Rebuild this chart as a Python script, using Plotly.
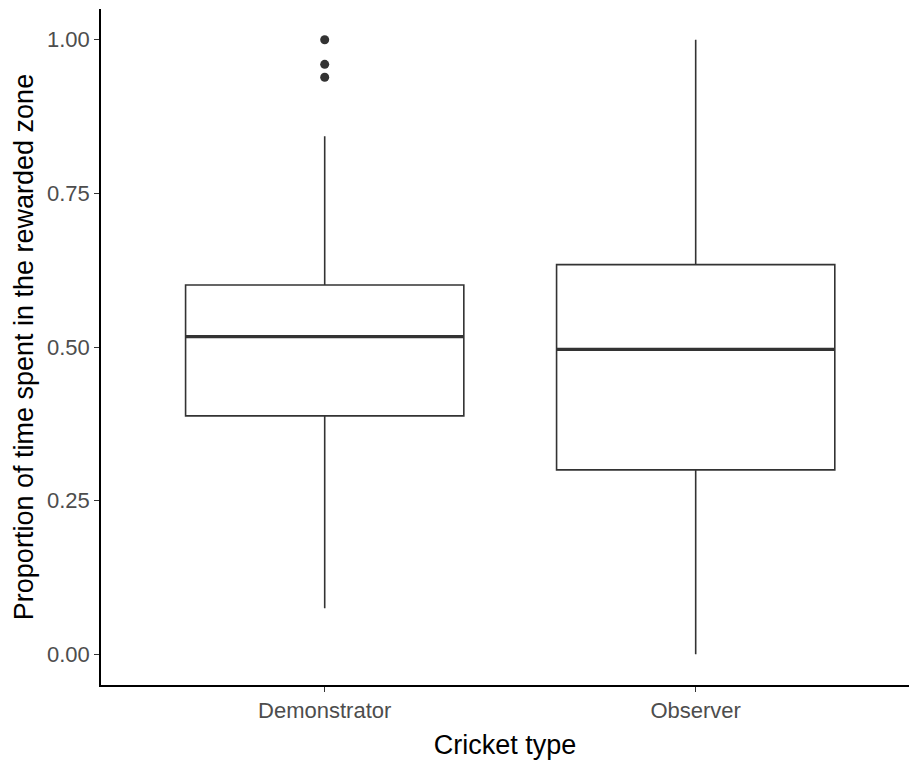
import plotly.graph_objects as go

categories = ["Demonstrator", "Observer"]
q1 = [0.388, 0.300]
median = [0.517, 0.496]
q3 = [0.601, 0.634]
lower_whisker = [0.075, 0.0]
upper_whisker = [0.843, 1.0]
outlier_cat = ["Demonstrator", "Demonstrator", "Demonstrator"]
outlier_val = [1.0, 0.960, 0.939]
y_ticks = [0.0, 0.25, 0.5, 0.75, 1.0]
y_tick_text = ["0.00", "0.25", "0.50", "0.75", "1.00"]

FONT = "Liberation Sans, Arial, sans-serif"
INK = "#333333"

fig = go.Figure()
fig.add_trace(go.Box(
    x=categories, q1=q1, median=median, q3=q3,
    lowerfence=lower_whisker, upperfence=upper_whisker,
    width=0.75, whiskerwidth=0,
    fillcolor="white", line=dict(color=INK, width=1.6),
    boxpoints=False, hoverinfo="skip", showlegend=False,
))
# thicker median line
fig.add_trace(go.Box(
    x=categories, q1=median, median=median, q3=median,
    lowerfence=median, upperfence=median,
    width=0.75, whiskerwidth=0,
    fillcolor="rgba(0,0,0,0)", line=dict(color=INK, width=3.2),
    boxpoints=False, hoverinfo="skip", showlegend=False,
))
fig.add_trace(go.Scatter(
    x=outlier_cat, y=outlier_val, mode="markers",
    marker=dict(color=INK, size=9), showlegend=False, hoverinfo="skip",
))

fig.update_layout(
    width=909, height=760,
    margin=dict(l=101, r=0, t=9, b=75, autoexpand=False),
    paper_bgcolor="white", plot_bgcolor="white",
    boxmode="overlay",
    font=dict(family=FONT, color="black"),
)
fig.update_xaxes(
    type="category", categoryorder="array", categoryarray=categories,
    range=[-0.603, 1.575],
    showline=True, linecolor="black", linewidth=1.6, mirror=False,
    showgrid=False, zeroline=False,
    ticks="outside", ticklen=5, tickwidth=1.4, tickcolor=INK,
    tickfont=dict(family=FONT, size=22, color="#4d4d4d"),
    title=dict(text="Cricket type", font=dict(family=FONT, size=27, color="black"), standoff=14),
)
fig.update_yaxes(
    range=[-0.05, 1.05],
    tickvals=y_ticks, ticktext=y_tick_text,
    showline=True, linecolor="black", linewidth=1.6,
    showgrid=False, zeroline=False,
    ticks="outside", ticklen=5, tickwidth=1.4, tickcolor=INK,
    tickfont=dict(family=FONT, size=22, color="#4d4d4d"),
    title=dict(text="Proportion of time spent in the rewarded zone", font=dict(family=FONT, size=27, color="black"), standoff=6),
)

fig.write_html(
    "out.html",
    config={"displayModeBar": False},
    post_script="document.body.style.margin='0';document.body.style.overflow='hidden';",
)
